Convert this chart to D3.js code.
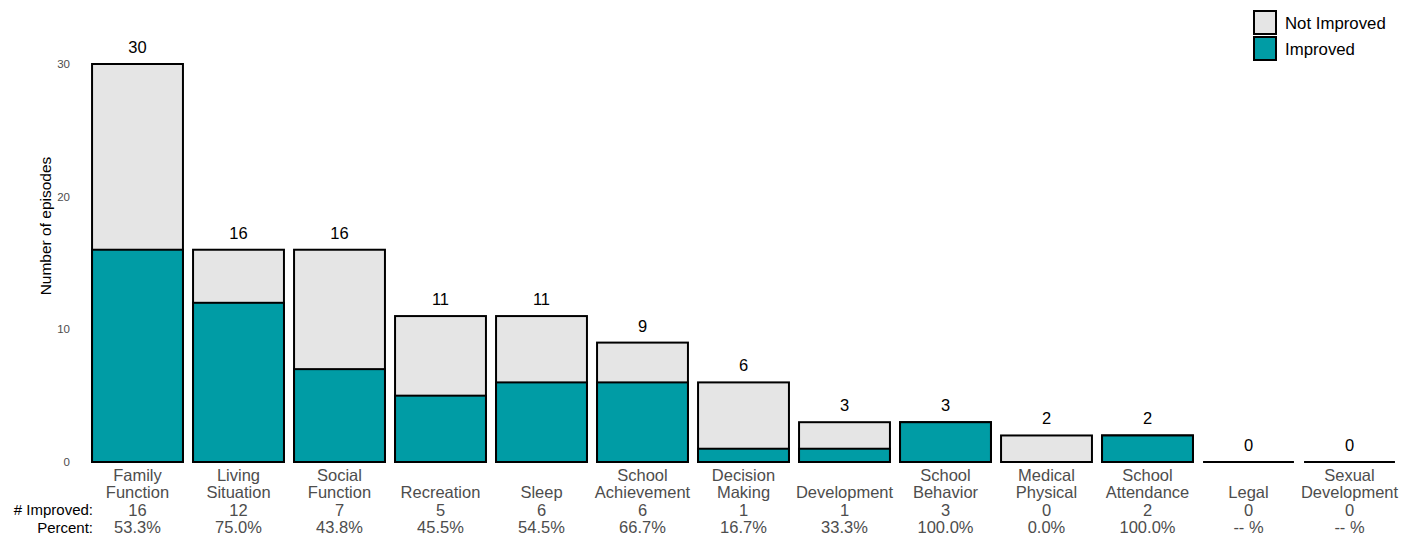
<!DOCTYPE html>
<html><head><meta charset="utf-8">
<script src="https://cdn.jsdelivr.net/npm/d3@7"></script>
<style>body{margin:0;background:#fff}svg{font-family:"Liberation Sans",Arial,sans-serif}</style>
</head><body>
<svg id="c" width="1402" height="540"></svg>
<script>
const categories = [["Family","Function"],["Living","Situation"],["Social","Function"],["Recreation"],["Sleep"],["School","Achievement"],["Decision","Making"],["Development"],["School","Behavior"],["Medical","Physical"],["School","Attendance"],["Legal"],["Sexual","Development"]];
const totals = [30,16,16,11,11,9,6,3,3,2,2,0,0];
const improved = [16,12,7,5,6,6,1,1,3,0,2,0,0];
const yTicks = [0,10,20,30];
const legendLabels = ["Not Improved","Improved"];
const colors = {notImproved:"#e5e5e5", improved:"#009ca5"};

const svg = d3.select("#c");
const x = d3.scaleBand().domain(d3.range(categories.length)).range([87,1400]).paddingInner(0.1).paddingOuter(0.05);
const y = d3.scaleLinear().domain([0,30]).range([462,64]);

svg.append("g").selectAll("text").data(yTicks).join("text")
  .attr("x",70).attr("y",d=>y(d)).attr("dy","0.35em").attr("text-anchor","end")
  .attr("font-size",11.5).attr("fill","#4d4d4d").text(d=>d);
svg.append("text").attr("transform",`translate(51,226) rotate(-90)`).attr("text-anchor","middle")
  .attr("font-size",15.5).attr("fill","#000").text("Number of episodes");

const g = svg.append("g");
const idx = d3.range(categories.length);
g.selectAll("rect.t").data(idx.filter(i=>totals[i]>0)).join("rect")
  .attr("x",i=>x(i)).attr("width",x.bandwidth()).attr("y",i=>y(totals[i])).attr("height",i=>y(0)-y(totals[i]))
  .attr("fill",colors.notImproved).attr("stroke","#000").attr("stroke-width",2);
g.selectAll("rect.i").data(idx.filter(i=>improved[i]>0)).join("rect")
  .attr("x",i=>x(i)).attr("width",x.bandwidth()).attr("y",i=>y(improved[i])).attr("height",i=>y(0)-y(improved[i]))
  .attr("fill",colors.improved).attr("stroke","#000").attr("stroke-width",2);
g.selectAll("line.z").data(idx.filter(i=>totals[i]===0)).join("line")
  .attr("x1",i=>x(i)).attr("x2",i=>x(i)+x.bandwidth()).attr("y1",y(0)).attr("y2",y(0))
  .attr("stroke","#000").attr("stroke-width",2);
g.selectAll("text.tot").data(idx).join("text")
  .attr("x",i=>x(i)+x.bandwidth()/2).attr("y",i=>y(totals[i])-11).attr("text-anchor","middle")
  .attr("font-size",16.5).attr("fill","#000").text(i=>totals[i]);

const lab = svg.append("g");
idx.forEach(i=>{
  const cx = x(i)+x.bandwidth()/2;
  const lines = categories[i];
  lines.forEach((t,k)=>{
    const row = lines.length===1 ? 1 : k;
    lab.append("text").attr("x",cx).attr("y",481+row*17.3).attr("text-anchor","middle")
      .attr("font-size",16.5).attr("fill","#4d4d4d").text(t);
  });
  lab.append("text").attr("x",cx).attr("y",515.5).attr("text-anchor","middle")
    .attr("font-size",16.5).attr("fill","#4d4d4d").text(improved[i]);
  lab.append("text").attr("x",cx).attr("y",533).attr("text-anchor","middle")
    .attr("font-size",16.5).attr("fill","#4d4d4d")
    .text(totals[i]>0 ? (improved[i]/totals[i]*100).toFixed(1)+"%" : "-- %");
});
lab.append("text").attr("x",93).attr("y",515).attr("text-anchor","end").attr("font-size",15).attr("fill","#000").text("# Improved:");
lab.append("text").attr("x",93).attr("y",533).attr("text-anchor","end").attr("font-size",15).attr("fill","#000").text("Percent:");

const leg = svg.append("g");
[colors.notImproved, colors.improved].forEach((c,k)=>{
  leg.append("rect").attr("x",1254).attr("y",11+k*26).attr("width",22).attr("height",23)
    .attr("fill",c).attr("stroke","#000").attr("stroke-width",2);
  leg.append("text").attr("x",1285).attr("y",23+k*26).attr("dy","0.35em").attr("font-size",16.8).attr("fill","#000").text(legendLabels[k]);
});
</script>
</body></html>
